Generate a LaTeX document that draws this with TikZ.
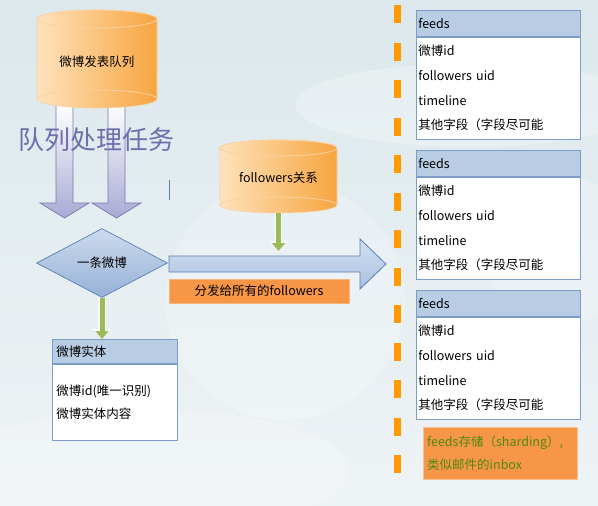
\documentclass[tikz,border=0pt]{standalone}
\usepackage{fontspec}
\setmainfont{Noto Sans CJK SC}
\usetikzlibrary{shapes.geometric,arrows.meta,positioning}

\definecolor{bgtop}{HTML}{DCE8EC}
\definecolor{bgbot}{HTML}{EEF3F5}
\definecolor{cyllight}{HTML}{FEE2BC}
\definecolor{cyldark}{HTML}{F7A540}
\definecolor{cylrimc}{HTML}{FAD2A0}
\definecolor{lavender}{HTML}{A9A9D5}
\definecolor{lavline}{HTML}{7777AF}
\definecolor{titleblue}{HTML}{6E6EAE}
\definecolor{diamtop}{HTML}{CDDBED}
\definecolor{diambot}{HTML}{95B1D7}
\definecolor{blueline}{HTML}{5A7FB4}
\definecolor{arrowtop}{HTML}{D3E0F1}
\definecolor{arrowbot}{HTML}{A9C0E1}
\definecolor{hdrblue}{HTML}{B8CCE4}
\definecolor{boxline}{HTML}{7E9CC8}
\definecolor{greenarr}{HTML}{9BBB59}
\definecolor{labelorange}{HTML}{F79646}
\definecolor{dashorange}{HTML}{FF9B00}
\definecolor{notegreen}{HTML}{4C8A10}

\tikzset{
  txt/.style={font=\fontsize{12.5}{15}\selectfont},
  cylbody/.style={left color=cyllight, right color=cyldark, draw=cylrimc, line width=0.6pt},
  cylrim/.style={draw=cylrimc, line width=0.8pt},
  cyltext/.style={txt, inner sep=0pt},
  lavarrow/.style={top color=white, bottom color=lavender, draw=lavline, line width=0.7pt},
  bigarrow/.style={top color=arrowtop, bottom color=arrowbot, draw=blueline, line width=0.8pt},
  postdiamond/.style={diamond, txt, top color=diamtop, bottom color=diambot, draw=blueline,
    line width=0.7pt, minimum width=131pt, minimum height=69pt, inner sep=0pt},
  hdrcell/.style={txt, draw=boxline, fill=hdrblue, line width=0.7pt, anchor=north west,
    align=left, inner xsep=2pt, inner ysep=0pt},
  bodycell/.style={draw=boxline, fill=white, line width=0.7pt, align=left,
    inner xsep=2pt, inner ysep=0pt},
  greenarrow/.style={draw=greenarr, line width=5pt, -{Triangle[width=13pt,length=8pt]},
    preaction={draw=white, line width=7.5pt, -{Triangle[width=16.5pt,length=10pt]}}},
  orangelabel/.style={txt, fill=labelorange, draw=labelorange!70!white, minimum width=180pt,
    minimum height=24pt, inner sep=0pt},
  notebox/.style={fill=labelorange, draw=labelorange!60!white, text=notegreen, anchor=north west,
    font=\fontsize{12.5}{23}\selectfont, text width=146pt, minimum height=52pt,
    align=left, inner xsep=4pt, inner ysep=0pt},
  title/.style={text=titleblue, font=\fontsize{26}{30}\selectfont, inner sep=0pt}
}

\begin{document}
\begin{tikzpicture}[x=1pt,y=1pt]
  \useasboundingbox (0,0) rectangle (598,-506);
  \clip (0,0) rectangle (598,-506);
  \shade[top color=bgtop, bottom color=bgbot] (0,0) rectangle (598,-506);
  \fill[white, opacity=0.25] (470,-105) ellipse (175 and 42);
  \fill[white, opacity=0.22] (285,-300) circle (120);
  \fill[white, opacity=0.22] (560,-250) circle (75);
  \fill[white, opacity=0.2] (150,-470) ellipse (200 and 60);

  \foreach \x in {56,108}
    \draw[lavarrow] (\x,-105) -- (\x,-203) -- (\x-16,-203) -- (\x+8.5,-218)
      -- (\x+33,-203) -- (\x+17,-203) -- (\x+17,-105) -- cycle;

  \draw[cylbody] (37,-19) -- (37,-99) arc (180:360:60 and 9) -- (157,-19) arc (0:180:60 and 9) -- cycle;
  \draw[cylrim] (97,-19) ellipse (60 and 9);
  \draw[cylrim] (37,-99) arc (180:0:60 and 9);
  \node[cyltext, minimum width=120pt, minimum height=96pt] (queue) at (97,-62) {微博发表队列};

  \node[title] (task) at (97,-140) {队列处理任务};
  \draw[blueline, line width=1pt] (169,-180) -- (169,-200);

  \draw[cylbody] (220,-148) -- (220,-205) arc (180:360:58.5 and 8) -- (337,-148) arc (0:180:58.5 and 8) -- cycle;
  \draw[cylrim] (278.5,-148) ellipse (58.5 and 8);
  \draw[cylrim] (220,-205) arc (180:0:58.5 and 8);
  \node[cyltext, minimum width=117pt, minimum height=70pt] (fcyl) at (278.5,-178) {followers关系};

  \draw[bigarrow] (169,-256) -- (360,-256) -- (360,-239) -- (386,-264) -- (360,-289)
    -- (360,-272) -- (169,-272) -- cycle;
  \coordinate (fanout) at (278.5,-251);
  \node[orangelabel] (fanlabel) at (259,-291) {分发给所有的followers};

  \node[postdiamond] (post) at (102,-263) {一条微博};

  \node[hdrcell, text width=117pt, inner xsep=4pt, minimum height=24pt] (entity) at (52,-339) {微博实体};
  \node[bodycell, below=0pt of entity, text width=117pt, inner xsep=4pt, minimum height=76pt,
    font=\fontsize{12.5}{23}\selectfont] (entitybody) {微博id(唯一识别)\\微博实体内容};

  \draw[greenarrow] (fcyl.south) -- (fanout);
  \draw[greenarrow] (post.south) -- (post.south |- entity.north);

  \foreach \i in {0,...,12}
    \fill[dashorange] (394,{-5-37.5*\i}) rectangle ++(7,-18);

  \foreach \i in {1,2,3} {
    \node[hdrcell, text width=160pt, minimum height=26pt] (feeds\i) at (416,{-10-140*(\i-1)}) {feeds};
    \node[bodycell, below=0pt of feeds\i, text width=160pt, minimum height=102pt,
      font=\fontsize{12.5}{24.7}\selectfont] (rows\i) {微博id\\followers uid\\timeline\\其他字段（字段尽可能};
  }

  \node[notebox] (note) at (423,-427) {feeds存储（sharding）,\\类似邮件的inbox};
\end{tikzpicture}
\end{document}
